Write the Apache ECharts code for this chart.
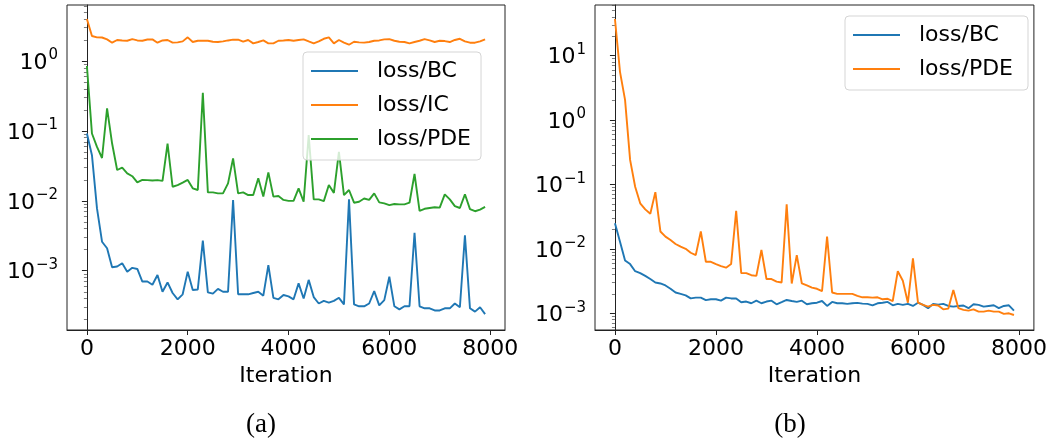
<!DOCTYPE html>
<html><head><meta charset="utf-8">
<script src="https://cdn.jsdelivr.net/npm/echarts@6/dist/echarts.min.js"></script>
<style>html,body{margin:0;padding:0;background:#fff}#c{width:1050px;height:443px}</style>
</head><body><div id="c"></div>
<script>
const iterations = [0,100,200,300,400,500,600,700,800,900,1000,1100,1200,1300,1400,1500,1600,1700,1800,1900,
2000,2100,2200,2300,2400,2500,2600,2700,2800,2900,3000,3100,3200,3300,3400,3500,3600,3700,3800,3900,
4000,4100,4200,4300,4400,4500,4600,4700,4800,4900,5000,5100,5200,5300,5400,5500,5600,5700,5800,5900,
6000,6100,6200,6300,6400,6500,6600,6700,6800,6900,7000,7100,7200,7300,7400,7500,7600,7700,7800,7900];

const xTicks = [0,2000,4000,6000,8000];
const yTicksA = [1e-3,1e-2,1e-1,1];
const yTicksB = [1e-3,1e-2,1e-1,1,10];

// Panel (a)
const aBC = [0.092,0.045,0.0078,0.0026,0.0021,0.00112,0.00115,0.00128,0.00097,0.0011,
0.00106,0.0007,0.0007,0.00063,0.00087,0.0005,0.00068,0.00048,0.00039,0.00046,
0.00097,0.00053,0.00054,0.0027,0.00049,0.00047,0.00055,0.0005,0.0005,0.0103,
0.00046,0.00046,0.00046,0.00048,0.0005,0.00044,0.0012,0.00041,0.00039,0.00045,
0.00043,0.00039,0.00066,0.0004,0.00074,0.00042,0.00034,0.00037,0.00035,0.00037,
0.00041,0.00033,0.0105,0.00033,0.00031,0.00031,0.00034,0.00051,0.00032,0.00038,
0.00082,0.00031,0.00028,0.00031,0.00031,0.0035,0.00031,0.00029,0.00029,0.00027,
0.00027,0.00029,0.00029,0.00034,0.0003,0.0032,0.00029,0.00026,0.0003,0.00024];
const aIC = [4.0,2.28,2.18,2.17,2.04,1.83,2.0,1.97,1.95,2.06,
1.97,1.95,2.03,2.04,1.83,1.97,2.0,1.83,1.85,1.91,
2.18,1.87,1.95,1.95,1.95,1.89,1.87,1.91,1.97,2.02,
2.02,1.89,2.0,1.79,1.87,1.97,1.79,1.79,1.95,1.97,
2.0,1.95,2.0,2.04,1.91,1.79,1.91,2.08,2.18,1.79,
2.0,1.83,1.71,1.89,1.85,1.83,1.87,1.95,1.97,2.04,
2.06,1.95,1.89,1.87,1.79,1.87,1.95,2.06,1.97,1.87,
1.95,1.93,1.87,2.0,2.08,1.91,1.83,1.83,1.91,2.04];
const aPDE = [0.85,0.092,0.059,0.041,0.21,0.066,0.0276,0.0298,0.0247,0.0225,
0.0184,0.0199,0.0198,0.0195,0.0198,0.0193,0.066,0.0159,0.0168,0.0182,
0.0199,0.0151,0.0143,0.352,0.0132,0.0132,0.0128,0.0128,0.0178,0.0405,
0.0128,0.0132,0.0121,0.0121,0.021,0.0115,0.0255,0.0115,0.0117,0.0103,
0.01,0.01,0.0151,0.0097,0.087,0.0105,0.0105,0.0099,0.0168,0.013,
0.050,0.0121,0.0143,0.0094,0.0097,0.0108,0.0103,0.0128,0.0095,0.0092,
0.0087,0.009,0.0089,0.0089,0.0094,0.0242,0.0072,0.0077,0.0079,0.0081,
0.008,0.0124,0.0105,0.0084,0.0079,0.0124,0.0076,0.0071,0.0075,0.0082];

// Panel (b)
const bBC = [0.025,0.0129,0.0066,0.0058,0.0045,0.0042,0.0038,0.0034,0.003,0.0029,
0.0027,0.0024,0.0021,0.002,0.0019,0.0017,0.00175,0.00175,0.0016,0.00165,
0.00165,0.00157,0.00175,0.0017,0.0017,0.00148,0.00152,0.00143,0.00157,0.00143,
0.00152,0.00157,0.00138,0.00149,0.00161,0.00155,0.0015,0.00157,0.00138,0.00143,
0.00146,0.00155,0.0013,0.0015,0.00143,0.00143,0.0014,0.00143,0.00145,0.00141,
0.0014,0.00133,0.00143,0.00146,0.0015,0.00133,0.0014,0.00135,0.0014,0.0013,
0.00146,0.00135,0.0012,0.0014,0.00136,0.0014,0.0013,0.00127,0.0013,0.00132,
0.0012,0.00138,0.00135,0.00127,0.0013,0.00133,0.0012,0.0013,0.00133,0.0011];
const bPDE = [37,5.6,2.05,0.24,0.092,0.051,0.041,0.035,0.076,0.0186,
0.0155,0.0137,0.0119,0.0108,0.01,0.0087,0.008,0.0186,0.0063,0.0063,
0.0058,0.0054,0.0051,0.0058,0.0388,0.0042,0.0042,0.0039,0.0038,0.0096,
0.0034,0.0034,0.0031,0.003,0.049,0.0029,0.008,0.0029,0.0027,0.0025,
0.0024,0.0022,0.0155,0.0021,0.002,0.002,0.002,0.002,0.00186,0.00177,
0.00177,0.00175,0.00177,0.00165,0.00168,0.00155,0.0045,0.0032,0.00146,0.0071,
0.00146,0.00135,0.00127,0.00135,0.00132,0.00115,0.00118,0.0023,0.0012,0.00113,
0.0011,0.00115,0.00106,0.00106,0.0011,0.00106,0.00106,0.00098,0.001,0.00094];

const C_BLUE = '#1f77b4', C_ORANGE = '#ff7f0e', C_GREEN = '#2ca02c';
const FONT = 'DejaVu Sans';

function pairs(vals){ return iterations.map((x,i)=>[x, vals[i]]); }
function powLabel(v){
  const e = Math.round(Math.log10(v));
  return '{b|10}{s|' + (e < 0 ? '\u2212' + (-e) : String(e)) + '}';
}

function xAxisDef(gi){
  return {
    type:'value', gridIndex:gi, min:-395, max:8295,
    name:'Iteration', nameLocation:'middle', nameGap:34,
    nameTextStyle:{fontSize:22, fontFamily:FONT, color:'#000'},
    axisLine:{show:true, onZero:false, lineStyle:{color:'#222', width:1}},
    axisTick:{show:true, length:5, customValues:xTicks, lineStyle:{color:'#222', width:1}},
    axisLabel:{customValues:xTicks, formatter:function(v){return String(Math.round(v));},
      fontSize:22, fontFamily:FONT, color:'#000', margin:8},
    splitLine:{show:false}
  };
}
function yAxisDef(gi, min, max, ticks){
  return {
    type:'log', logBase:10, gridIndex:gi, min:min, max:max,
    axisLine:{show:true, lineStyle:{color:'#222', width:1}},
    axisTick:{show:true, length:5, customValues:ticks, lineStyle:{color:'#222', width:1}},
    minorTick:{show:true, splitNumber:9, length:3, lineStyle:{color:'#444', width:0.7}},
    axisLabel:{customValues:ticks, formatter:powLabel, margin:9, color:'#000',
      fontSize:22, fontFamily:FONT,
      rich:{ b:{fontSize:22, fontFamily:FONT, color:'#000', lineHeight:26, verticalAlign:'bottom'},
             s:{fontSize:15, fontFamily:FONT, color:'#000', lineHeight:16, verticalAlign:'top', padding:[0,0,0,1]} } },
    splitLine:{show:false}, minorSplitLine:{show:false}
  };
}
function lineSeries(name, vals, color, xi, yi){
  return {type:'line', name:name, data:pairs(vals), xAxisIndex:xi, yAxisIndex:yi,
    showSymbol:false, symbol:'none', color:color, lineStyle:{color:color, width:1.9}, animation:false};
}
const legendText = {fontSize:22, fontFamily:FONT, color:'#000', padding:[0,0,0,14], lineHeight:24};

const chart = echarts.init(document.getElementById('c'), null, {renderer:'canvas'});
chart.setOption({
  animation:false,
  backgroundColor:'#fff',
  grid:[
    {left:67, top:5, width:438, height:325, show:true, borderColor:'#222', borderWidth:1, backgroundColor:'transparent'},
    {left:595, top:5, width:439, height:325, show:true, borderColor:'#222', borderWidth:1, backgroundColor:'transparent'}
  ],
  xAxis:[xAxisDef(0), xAxisDef(1)],
  yAxis:[yAxisDef(0, 1.42e-4, 6.33, yTicksA), yAxisDef(1, 5.5e-4, 61, yTicksB)],
  legend:[
    {data:['loss/BC','loss/IC','loss/PDE'], orient:'vertical', left:303, top:52,
     padding:[7,10,9,8], itemGap:10, itemWidth:47, itemHeight:2, icon:'rect',
     borderColor:'#d5d5d5', borderWidth:1, borderRadius:4, backgroundColor:'rgba(255,255,255,0.8)',
     textStyle:legendText, selectedMode:false},
    {data:['loss/BC ','loss/PDE '], orient:'vertical', left:845, top:16,
     padding:[7,8,9,8], itemGap:10, itemWidth:47, itemHeight:2, icon:'rect',
     borderColor:'#d5d5d5', borderWidth:1, borderRadius:4, backgroundColor:'rgba(255,255,255,0.8)',
     textStyle:legendText, selectedMode:false}
  ],
  series:[
    lineSeries('loss/BC', aBC, C_BLUE, 0, 0),
    lineSeries('loss/IC', aIC, C_ORANGE, 0, 0),
    lineSeries('loss/PDE', aPDE, C_GREEN, 0, 0),
    lineSeries('loss/BC ', bBC, C_BLUE, 1, 1),
    lineSeries('loss/PDE ', bPDE, C_ORANGE, 1, 1)
  ],
  graphic:[
    {type:'text', x:261, y:425, style:{text:'(a)', align:'center', verticalAlign:'middle', fontSize:27, fontFamily:'Liberation Serif', fill:'#000'}},
    {type:'text', x:790, y:425, style:{text:'(b)', align:'center', verticalAlign:'middle', fontSize:27, fontFamily:'Liberation Serif', fill:'#000'}}
  ]
});
</script></body></html>
